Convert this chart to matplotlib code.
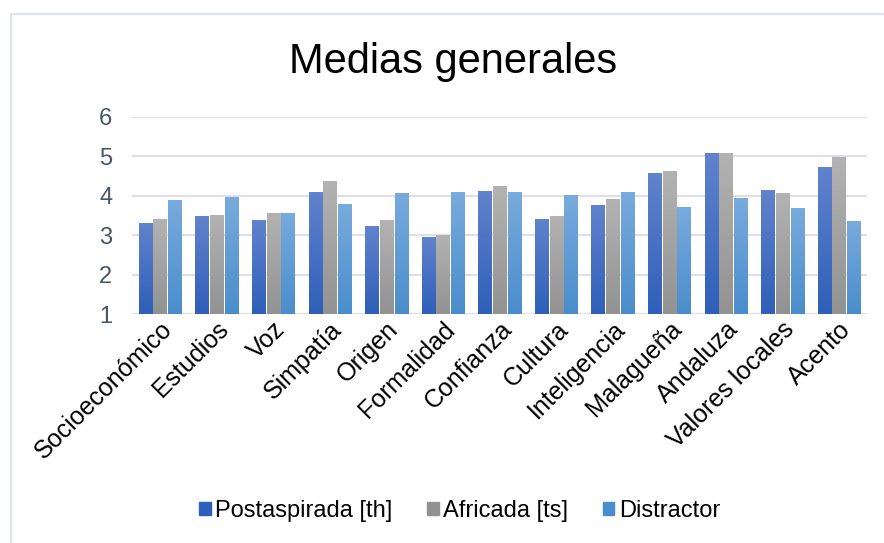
import matplotlib.pyplot as plt
import numpy as np
from matplotlib.colors import LinearSegmentedColormap
from matplotlib.patches import Rectangle

plt.rcParams["font.family"] = ["Liberation Sans", "DejaVu Sans"]

categories = ["Socioeconómico", "Estudios", "Voz", "Simpatía", "Origen", "Formalidad",
              "Confianza", "Cultura", "Inteligencia", "Malagueña", "Andaluza",
              "Valores locales", "Acento"]
postaspirada = [3.31, 3.49, 3.39, 4.10, 3.24, 2.96, 4.12, 3.41, 3.77, 4.58, 5.08, 4.15, 4.73]
africada = [3.41, 3.51, 3.57, 4.38, 3.39, 3.01, 4.25, 3.49, 3.92, 4.63, 5.08, 4.07, 4.98]
distractor = [3.89, 3.97, 3.57, 3.79, 4.07, 4.10, 4.10, 4.02, 4.10, 3.72, 3.95, 3.69, 3.36]

series = [
    ("Postaspirada [th]", postaspirada, "#2e5fb9", "#6283cd"),
    ("Africada [ts]", africada, "#929292", "#b3b3b3"),
    ("Distractor", distractor, "#4a8dcc", "#79abdd"),
]

fig = plt.figure(figsize=(8.84, 5.43), dpi=100)
ax = fig.add_axes([0.149, 0.421, 0.832, 0.364])

x = np.arange(len(categories))
width = 0.23
offsets = [-0.26, 0.0, 0.26]
grad = np.linspace(0, 1, 256).reshape(-1, 1)

handles = []
for (label, vals, bottom_c, top_c), off in zip(series, offsets):
    cmap = LinearSegmentedColormap.from_list(label, [bottom_c, top_c])
    bars = ax.bar(x + off, np.array(vals) - 1, width, bottom=1, color=top_c,
                  label=label, zorder=2)
    # vertical gradient fill, clipped to each bar
    for b in bars:
        x0, y0 = b.get_x(), b.get_y()
        im = ax.imshow(grad, extent=[x0, x0 + b.get_width(), y0, y0 + b.get_height()],
                       origin="lower", cmap=cmap, aspect="auto", zorder=3)
        im.set_clip_path(b)
    handles.append(Rectangle((0, 0), 1, 1, color=bottom_c))

ax.set_xlim(-0.5, len(categories) - 0.5)
ax.set_ylim(1, 6)
ax.set_yticks([1, 2, 3, 4, 5, 6])
ax.yaxis.grid(True, color="#dde1e7", linewidth=1.6, zorder=0)
ax.set_axisbelow(True)
for s in ax.spines.values():
    s.set_visible(False)
ax.tick_params(axis="both", length=0)
ax.tick_params(axis="y", labelsize=17, labelcolor="#4a5568", pad=14)
ax.set_xticks(x)
ax.set_xticklabels(categories, rotation=45, ha="right", rotation_mode="anchor",
                   fontsize=18, color="black")
ax.tick_params(axis="x", pad=2)

fig.text(0.513, 0.885, "Medias generales", ha="center", va="center", fontsize=30)

fig.legend(handles, [s[0] for s in series], loc="center", bbox_to_anchor=(0.52, 0.059),
           ncol=3, frameon=False, fontsize=17, handlelength=0.5, handleheight=0.5,
           handletextpad=0.2, columnspacing=1.45)

fig.patches.append(Rectangle((11 / 884, -0.05), 1.1, 1.0242, transform=fig.transFigure,
                             fill=False, edgecolor="#dfe3ea", linewidth=1.5))

fig.savefig("out.png", dpi=100)
